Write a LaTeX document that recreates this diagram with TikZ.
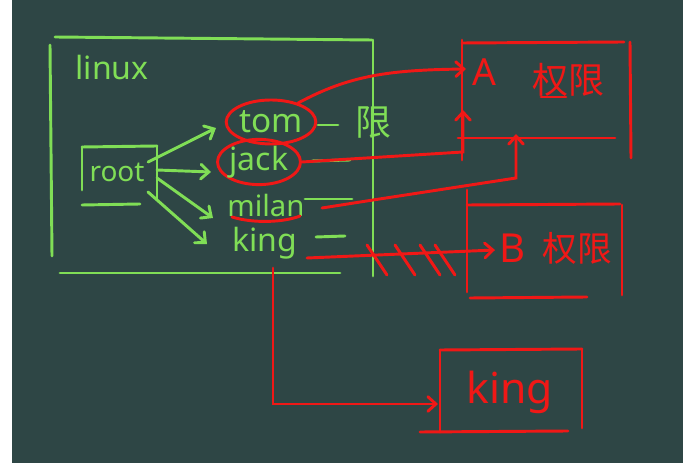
\documentclass[tikz,border=0pt]{standalone}
\usepackage{fontspec}
\newfontfamily\chalkfont{Noto Sans}
\newfontfamily\cjkfont{Noto Sans CJK SC}
\usepackage{tikz}
\usetikzlibrary{arrows.meta, shapes.geometric, positioning}
\usepackage{xcolor}
\definecolor{board}{RGB}{46,70,69}
\definecolor{chalkgreen}{RGB}{128,222,86}
\definecolor{chalkred}{RGB}{240,24,22}
\newcommand{\chalksize}[1]{\fontsize{#1}{#1}\selectfont}
\tikzset{
    >={Straight Barb[length=6pt, width=11pt, line cap=round]},
    greenline/.style={chalkgreen, line width=2.2pt, line cap=round},
    redline/.style={chalkred, line width=2.2pt, line cap=round},
    greentext/.style={chalkgreen, inner sep=1pt},
    redtext/.style={chalkred, inner sep=1pt},
    ring/.style={ellipse, draw=chalkred, line width=2.2pt, inner sep=0pt}
}

\begin{document}
\begin{tikzpicture}[x=0.75pt, y=-0.75pt]
    % Board
    \fill[white] (0,0) rectangle (693,466);
    \fill[board] (12,0) rectangle (683,463);

    % Linux box
    \draw[greenline] (55,37) -- (372,40);
    \draw[greenline] (50,45) -- (52,256);
    \draw[greenline] (373,40) -- (373,276);
    \draw[greenline] (60,273) -- (340,273);
    \node[greentext, font=\chalkfont\chalksize{24}] (linux) at (112,68) {linux};

    % Root box
    \draw[greenline] (82,147) -- (82,190);
    \draw[greenline] (82,147) -- (157,146);
    \draw[greenline] (157,146) -- (157,200);
    \draw[greenline] (82,205) -- (140,204);
    \node[greentext, font=\chalkfont\chalksize{21}] (root) at (117,172) {root};

    % Users
    \node[greentext, ring, minimum width=63pt, minimum height=33pt,
        font=\chalkfont\chalksize{25}] (tom) at (271,122) {tom};
    \node[greentext, ring, minimum width=50pt, minimum height=30pt,
        font=\chalkfont\chalksize{24}] (jack) at (259,162) {jack};
    \node[greentext, font=\chalkfont\chalksize{22}] (milan) at (266,206) {milan};
    \node[greentext, font=\chalkfont\chalksize{24}] (king) at (265,243) {king};
    \draw[redline] (232,217) .. controls (255,224) and (285,222) .. (300,216);

    % Root to users
    \coordinate (totom) at (216,128);
    \coordinate (tojack) at (211,172);
    \coordinate (tomilan) at (213,218);
    \coordinate (toking) at (207,244);
    \draw[greenline, ->] (root.east) ++(2,-10) -- (totom);
    \draw[greenline, ->] (157,170) -- (tojack);
    \draw[greenline, ->] (157,178) -- (tomilan);
    \draw[greenline, ->] (148,192) -- (toking);

    % Dashes after names
    \draw[greenline] (318,125) -- (338,125);
    \node[greentext, font=\cjkfont\chalksize{27}] (xian) at (373,123) {限};
    \draw[greenline] (312,161) -- (350,160);
    \draw[greenline] (305,199) -- (352,199);
    \draw[greenline] (316,237) -- (345,236);

    % A box
    \draw[redline] (462,40) -- (462,160);
    \draw[redline] (462,43) -- (624,42);
    \draw[redline] (630,42) -- (631,158);
    \draw[redline] (458,138) -- (615,138);
    \node[redtext, font=\chalkfont\chalksize{28}] (a) at (484,72) {A};
    \node[redtext, font=\cjkfont\chalksize{27}] (aquan) at (568,80) {权限};
    \draw[redline] (541,97) -- (566,97);

    % B box
    \draw[redline] (467,190) -- (467,292);
    \draw[redline] (467,205) -- (620,204);
    \draw[redline] (622,205) -- (622,295);
    \draw[redline] (470,298) -- (587,297);
    \node[redtext, font=\chalkfont\chalksize{30}] (b) at (512,248) {B};
    \node[redtext, font=\cjkfont\chalksize{26}] (bquan) at (577,248) {权限};

    % King box
    \draw[redline] (440,350) -- (582,349);
    \draw[redline] (440,350) -- (440,432);
    \draw[redline] (582,349) -- (582,428);
    \draw[redline] (420,432) -- (568,431);
    \node[redtext, font=\chalkfont\chalksize{32}] (kingbox) at (510,392) {king};

    % Links to the boxes
    \coordinate (ain) at (466,69);
    \coordinate (aup) at (463,110);
    \coordinate (mup) at (516,134);
    \coordinate (milanfrom) at (322,208);
    \coordinate (kingfrom) at (307,258);
    \coordinate (bin) at (495,250);
    \coordinate (kingdown) at (273,268);
    \coordinate (kin) at (438,404);
    \draw[redline, ->] (tom.35) .. controls (350,75) and (390,70) .. (ain);
    \draw[redline, ->] (jack.east) -- (463,152) -- (aup);
    \draw[redline, ->] (milanfrom) -- (373,200) -- (516,178) -- (mup);
    \draw[redline, ->] (kingfrom) -- (bin);
    \draw[redline, ->] (kingdown) |- (kin);

    % Crossed out
    \foreach \hx in {367,395,420,435}
        \draw[redline] (\hx,245) -- ++(20,30);
\end{tikzpicture}
\end{document}
